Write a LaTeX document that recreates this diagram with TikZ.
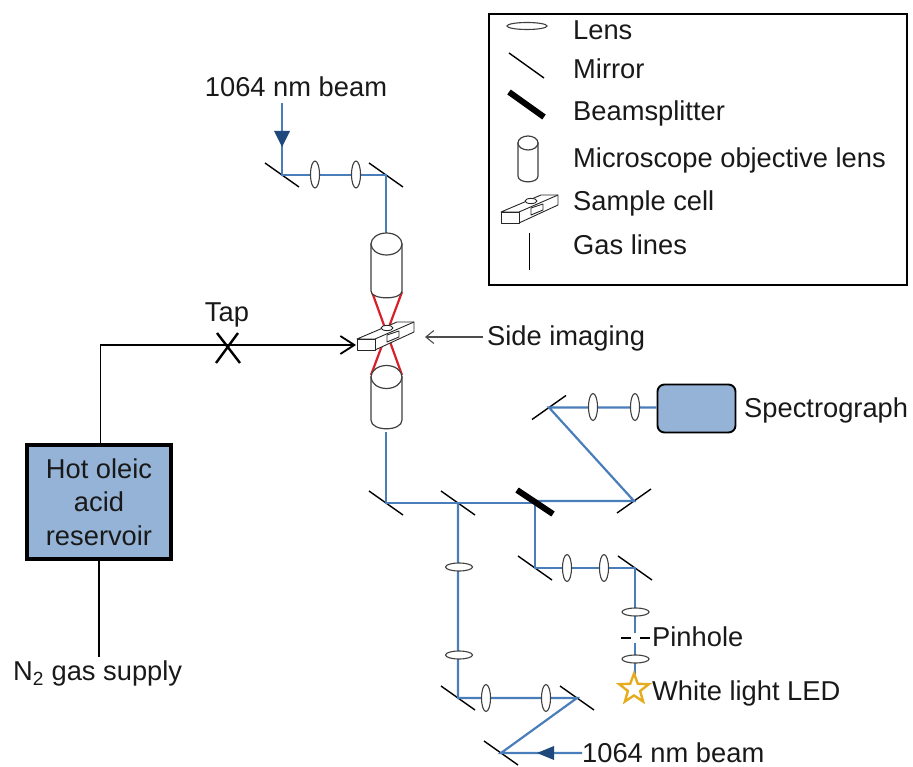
\documentclass[tikz,border=0pt]{standalone}
\usepackage{fontspec}
\setmainfont{Liberation Sans}
\usetikzlibrary{shapes.geometric,arrows.meta}
\definecolor{beamblue}{HTML}{4A7EBB}
\definecolor{arrowblue}{HTML}{1F497D}
\definecolor{boxblue}{HTML}{95B3D7}
\definecolor{stargold}{HTML}{E6AC1E}
\definecolor{redbeam}{HTML}{D8202A}
\definecolor{lensline}{HTML}{404040}
\tikzset{
  beam/.style={draw=beamblue,line width=2.2pt},
  mirrorline/.style={draw=black,line width=1.4pt},
  splitter/.style={draw=black,line width=6pt},
  gasline/.style={draw=black,line width=1.7pt},
  redline/.style={draw=redbeam,line width=2.2pt},
  vlens/.style={ellipse,draw=lensline,fill=white,line width=1.1pt,inner sep=0pt,minimum width=9pt,minimum height=27pt},
  hlens/.style={ellipse,draw=lensline,fill=white,line width=1.1pt,inner sep=0pt,minimum width=27pt,minimum height=8pt},
  lblfont/.style={font=\fontsize{27.3}{33.5}\selectfont,inner sep=0pt,text=black!90},
  lbl/.style={lblfont,text height=19.6pt,text depth=0pt},
  lblw/.style={lbl,anchor=west},
  objline/.style={draw=lensline,line width=1.2pt,fill=white},
  cellline/.style={draw=black!85,line width=0.9pt,fill=white,line join=round},
  arrowfill/.style={fill=arrowblue,draw=none},
}
% name x y : mirror running down to the right
\newcommand{\mirrorD}[3]{\coordinate (#1) at (#2,#3);
  \draw[mirrorline] ([shift={(-17,-12)}]#1) -- ([shift={(17,12)}]#1);}
% name x y : mirror running up to the right
\newcommand{\mirrorU}[3]{\coordinate (#1) at (#2,#3);
  \draw[mirrorline] ([shift={(-17,12)}]#1) -- ([shift={(17,-12)}]#1);}
% objective: centre x, top-ellipse y, side end y, half width, ell ry, bottom bulge
\newcommand{\objective}[6]{
  \draw[objline] (#1-#4,#2) -- (#1-#4,#3) .. controls (#1-#4,#3+#6*1.3) and (#1+#4,#3+#6*1.3) .. (#1+#4,#3) -- (#1+#4,#2) -- cycle;
  \draw[objline] (#1,#2) ellipse [x radius=#4,y radius=#5];
}
\newcommand{\samplecell}[2]{
  \begin{scope}[shift={(#1,#2)}]
    \draw[cellline] (0,0) -- (40,-17) -- (57,-17) -- (57,-7) -- (18,11) -- (18,0) -- cycle;
    \draw[cellline] (0,0) rectangle (18,11);
    \draw[cellline] (18,0) -- (57,-17);
    \draw[cellline] (30,-4) -- (42,-8) -- (42,-2) -- (30,3) -- cycle;
    \draw[cellline] (30,-11) ellipse [x radius=6,y radius=2.6];
  \end{scope}
}
\begin{document}
\begin{tikzpicture}[x=1pt,y=-1pt]
\useasboundingbox (0,0) rectangle (913,767);
% legend
\node[draw=black,line width=1.8pt,minimum width=418pt,minimum height=271pt,anchor=north west,inner sep=0pt] (legend) at (488,13.5) {};
\node[hlens,minimum width=40pt,minimum height=7pt] (leglens) at (527,26) {};
\draw[mirrorline] (509,53) -- (544,78);
\draw[splitter] (509,92) -- (544,117);
\objective{528}{143}{176}{10}{7}{6}
\samplecell{501}{212}
\coordinate (gasA) at (529.5,233); \coordinate (gasB) at (529.5,270);
\draw[gasline] (gasA) -- (gasB);
\node[lblw] (tLens) at (573,30) {Lens};
\node[lblw] (tMirror) at (573,69) {Mirror};
\node[lblw] (tBS) at (573,111) {Beamsplitter};
\node[lblw] (tMO) at (573,158) {Microscope objective lens};
\node[lblw] (tSC) at (573,201) {Sample cell};
\node[lblw] (tGL) at (573,245) {Gas lines};
% mirrors
\mirrorD{m1}{282}{175}
\mirrorD{m2}{386}{175}
\mirrorD{m3}{386}{503}
\mirrorD{m4}{458}{503}
\mirrorD{m5}{458}{698}
\mirrorD{m6}{577}{698}
\mirrorD{m7}{501}{753}
\mirrorD{m8}{535}{568}
\mirrorD{m9}{635}{568}
\mirrorU{m10}{634}{501}
\mirrorU{m11}{549}{407.5}
% beamsplitter
\coordinate (bs) at (535,502);
% other points
\coordinate (topin) at (282,103);
\coordinate (objtop) at (386,235);
\coordinate (objbot) at (386,432);
\node[lbl] (top1064) at (296,87) {1064 nm beam};
\node[lblw] (bot1064) at (582,753) {1064 nm beam};
% spectrograph
\node[draw=black,line width=1.9pt,fill=boxblue,rounded corners=7pt,minimum width=78pt,minimum height=48pt,inner sep=0pt] (spec) at (696.5,408.5) {};
\node[lblw] (tSpec) at (744,408) {Spectrograph};
% beams
\draw[beam] (topin) -- (m1) -- (m2) -- (objtop);
\draw[beam] (objbot) -- (m3) -- (bs |- m3);
\draw[beam] (bs |- m10) -- (m10) -- (m11) -- (spec.west |- m11);
\draw[beam] (m4) -- (m5) -- (m6) -- (m7) -- (bot1064.west);
\draw[beam] (bs) -- (m8) -- (m9) -- (m9 |- 0,675);
\draw[splitter] ([shift={(-18,-12)}]bs) -- ([shift={(18,12)}]bs);
% arrowheads
\fill[arrowfill] (274,131) -- (290,131) -- (282,147) -- cycle;
\fill[arrowfill] (537,753) -- (554,746) -- (554,760) -- cycle;
% lenses
\node[vlens] (l1) at (315,174.5) {};
\node[vlens] (l2) at (356,174.5) {};
\node[hlens] (l3) at (459,567) {};
\node[hlens] (l4) at (459,655) {};
\node[vlens] (l5) at (486,698) {};
\node[vlens] (l6) at (546,698) {};
\node[vlens] (l7) at (567,568) {};
\node[vlens] (l8) at (604,568) {};
\node[hlens] (l9) at (635.5,612) {};
\node[hlens] (l10) at (635.5,659) {};
\node[vlens] (l11) at (593,407) {};
\node[vlens] (l12) at (635,407) {};
% pinhole
\fill[white] (632,633) rectangle (638,643);
\coordinate (pa) at (621,638); \coordinate (pb) at (631,638);
\coordinate (pc) at (640,638); \coordinate (pd) at (650,638);
\draw[gasline] (pa) -- (pb);
\draw[gasline] (pc) -- (pd);
\node[lblw] (tPin) at (652,637) {Pinhole};
% LED
\node[star,star points=5,star point ratio=2.4,draw=stargold,fill=white,line width=2.4pt,inner sep=0pt,minimum size=31pt] (led) at (634,689) {};
\node[lblw] (tLED) at (652,691) {White light LED};
% red focus
\coordinate (ra) at (372,292); \coordinate (rb) at (402,375);
\coordinate (rc) at (402,292); \coordinate (rd) at (371,375);
\draw[redline] (ra) -- (rb);
\draw[redline] (rc) -- (rd);
% objectives
\objective{386.5}{244}{291}{15.5}{11}{7}
\objective{386.5}{377}{420}{15.5}{11.5}{9}
% gas feed
\node[draw=black,line width=4.5pt,fill=boxblue,minimum width=144pt,minimum height=114pt,inner sep=0pt,align=center,lblfont] (res) at (99,502) {Hot oleic\\acid\\reservoir};
\coordinate (corner) at (100.5,345);
\coordinate (cellin) at (356,345);
\draw[gasline,-{Straight Barb[length=14pt,width=18pt,line width=1.8pt]}] (res.north -| corner) -- (corner) -- (cellin);
\samplecell{357}{339}
\node[lblw] (tN) at (13,671) {N\textsubscript{2} gas supply};
\coordinate (n2top) at (99,657);
\draw[gasline] (res.south -| n2top) -- (n2top);
\coordinate (xa) at (217,333); \coordinate (xb) at (240,363);
\coordinate (xc) at (238,333); \coordinate (xd) at (216,363);
\draw[draw=black,line width=2.4pt] (xa) -- (xb);
\draw[draw=black,line width=2.4pt] (xc) -- (xd);
\node[lbl] (tTap) at (227,312) {Tap};
% side imaging
\node[lblw] (tSide) at (487,336) {Side imaging};
\coordinate (sideTip) at (425,337);
\draw[draw=black!70,line width=1.1pt,-{Straight Barb[length=8pt,width=13pt]}] (tSide.west |- sideTip) ++(-4,0) -- (sideTip);
\end{tikzpicture}
\end{document}
